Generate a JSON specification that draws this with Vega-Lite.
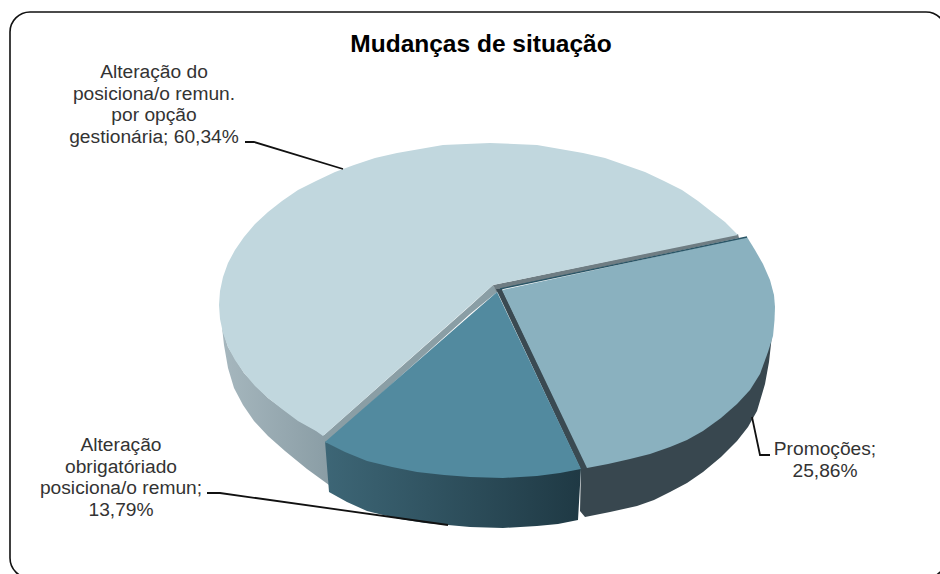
{"$schema":"https://vega.github.io/schema/vega-lite/v6.json","width":940,"height":574,"autosize":"none","padding":0,"background":"white","view":{"stroke":null},
"title":{"text":"Mudanças de situação","font":"Liberation Sans","fontSize":24.5,"fontWeight":"bold","color":"#000000","anchor":"middle","dx":11,"offset":-57},
"encoding":{"x":{"field":"x","type":"quantitative","axis":null,"scale":{"domain":[0,940],"nice":false,"zero":false}},"y":{"field":"y","type":"quantitative","axis":null,"scale":{"domain":[574,0],"nice":false,"zero":false}},"order":{"value":null}},
"layer":[
{"data":{"values":[{"x":10,"y":12,"x2":946,"y2":578}]},"mark":{"type":"rect","fill":null,"stroke":"#111111","strokeWidth":1.6,"cornerRadius":20,"clip":false},"encoding":{"x2":{"field":"x2"},"y2":{"field":"y2"}}},
{"data":{"values":[{"part":"side 60,34%","x":222,"y":327},{"x":224,"y":345},{"x":228,"y":368},{"x":234,"y":388},{"x":243,"y":405},{"x":254,"y":421},{"x":268,"y":436},{"x":285,"y":451},{"x":307,"y":469},{"x":329,"y":485},{"x":326,"y":436},{"x":298,"y":420},{"x":268,"y":398},{"x":244,"y":373},{"x":228,"y":347}]},"mark":{"type":"line","strokeWidth":0,"fill":{"x1":0,"y1":0,"x2":1,"y2":0,"gradient":"linear","stops":[{"offset":0,"color":"#a6b7be"},{"offset":1,"color":"#8a9da5"}]}}},
{"data":{"values":[{"part":"side 25,86%","x":772,"y":335},{"x":769,"y":362},{"x":765,"y":384},{"x":757,"y":411},{"x":748,"y":427},{"x":737,"y":441},{"x":721,"y":457},{"x":703,"y":472},{"x":687,"y":483},{"x":670,"y":492},{"x":654,"y":500},{"x":637,"y":506},{"x":610,"y":512},{"x":585,"y":517},{"x":580,"y":511},{"x":581,"y":468},{"x":630,"y":455},{"x":670,"y":440},{"x":737,"y":400}]},"mark":{"type":"line","strokeWidth":0,"fill":"#38474f"}},
{"data":{"values":[{"part":"side 13,79%","x":325,"y":441},{"x":329,"y":492},{"x":347,"y":502},{"x":367,"y":511},{"x":383,"y":515},{"x":400,"y":519},{"x":425,"y":523},{"x":448,"y":525},{"x":470,"y":527},{"x":503,"y":528},{"x":537,"y":526},{"x":558,"y":524},{"x":578,"y":520},{"x":581,"y":468},{"x":537,"y":474},{"x":470,"y":475},{"x":417,"y":470},{"x":367,"y":459}]},"mark":{"type":"line","strokeWidth":0,"fill":{"x1":0,"y1":0,"x2":1,"y2":0,"gradient":"linear","stops":[{"offset":0,"color":"#3d6676"},{"offset":1,"color":"#1f3944"}]}}},
{"data":{"values":[{"part":"band","x":493,"y":285},{"x":470,"y":306},{"x":323,"y":436},{"x":326,"y":443},{"x":470,"y":314},{"x":497,"y":292}]},"mark":{"type":"line","strokeWidth":0,"fill":"#8a9ea5"}},
{"data":{"values":[{"part":"band","x":493,"y":285},{"x":738,"y":234},{"x":739,"y":238},{"x":500,"y":289},{"x":497,"y":293}]},"mark":{"type":"line","strokeWidth":0,"fill":"#6f7d83"}},
{"data":{"values":[{"part":"band","x":496,"y":289},{"x":502,"y":289},{"x":588,"y":468},{"x":581,"y":470}]},"mark":{"type":"line","strokeWidth":0,"fill":"#3a4a52"}},
{"data":{"values":[{"part":"60,34%","x":493,"y":285},{"x":323,"y":436},{"x":316,"y":431},{"x":298,"y":421},{"x":282,"y":409},{"x":268,"y":398},{"x":255,"y":386},{"x":244,"y":373},{"x":235,"y":360},{"x":228,"y":347},{"x":223,"y":333},{"x":220,"y":319},{"x":219,"y":305},{"x":220,"y":291},{"x":223,"y":277},{"x":228,"y":263},{"x":235,"y":250},{"x":244,"y":237},{"x":255,"y":224},{"x":268,"y":212},{"x":282,"y":201},{"x":298,"y":190},{"x":316,"y":181},{"x":335,"y":172},{"x":354,"y":165},{"x":375,"y":158},{"x":397,"y":153},{"x":420,"y":149},{"x":443,"y":145},{"x":466,"y":144},{"x":490,"y":143},{"x":514,"y":144},{"x":537,"y":145},{"x":560,"y":149},{"x":583,"y":153},{"x":605,"y":158},{"x":625,"y":165},{"x":645,"y":172},{"x":664,"y":181},{"x":682,"y":190},{"x":698,"y":201},{"x":712,"y":212},{"x":725,"y":222},{"x":738,"y":235}]},"mark":{"type":"line","strokeWidth":0,"fill":"#c1d7de"}},
{"data":{"values":[{"part":"13,79%","x":497,"y":292},{"x":581,"y":469},{"x":560,"y":473},{"x":537,"y":476},{"x":503,"y":478},{"x":470,"y":477},{"x":444,"y":475},{"x":417,"y":472},{"x":392,"y":467},{"x":367,"y":461},{"x":345,"y":452},{"x":325,"y":442}]},"mark":{"type":"line","strokeWidth":0,"fill":"#528a9f"}},
{"data":{"values":[{"part":"25,86%","x":502,"y":290},{"x":747,"y":237},{"x":755,"y":250},{"x":763,"y":264},{"x":770,"y":280},{"x":774,"y":295},{"x":775,"y":307},{"x":774.5,"y":320},{"x":773,"y":336},{"x":768,"y":352},{"x":760,"y":374},{"x":750,"y":390},{"x":737,"y":404},{"x":721,"y":418},{"x":703,"y":431},{"x":687,"y":440},{"x":670,"y":447},{"x":650,"y":454},{"x":630,"y":459},{"x":608,"y":464},{"x":587,"y":468}]},"mark":{"type":"line","strokeWidth":0,"fill":"#8ab1bf"}},
{"data":{"values":[{"part":"edge","x":500,"y":289},{"x":747,"y":237}]},"mark":{"type":"line","stroke":"#2a5566","strokeWidth":1.4}},
{"data":{"values":[{"part":"leader","x":245,"y":142},{"x":254,"y":142},{"x":343,"y":169}]},"mark":{"type":"line","stroke":"#111111","strokeWidth":1.8}},
{"data":{"values":[{"part":"leader","x":207,"y":493},{"x":220,"y":493},{"x":448,"y":525}]},"mark":{"type":"line","stroke":"#111111","strokeWidth":1.8}},
{"data":{"values":[{"part":"leader","x":752,"y":417},{"x":760,"y":455},{"x":770,"y":455}]},"mark":{"type":"line","stroke":"#111111","strokeWidth":1.8}},
{"data":{"values":[{"x":154,"y":72,"label":"Alteração do\nposiciona/o remun.\npor opção\ngestionária; 60,34%"},{"x":121,"y":445,"label":"Alteração\nobrigatóriado\nposiciona/o remun;\n13,79%"},{"x":825,"y":449,"label":"Promoções;\n25,86%"}]},"mark":{"type":"text","font":"Liberation Sans","fontSize":19.2,"color":"#333333","align":"center","baseline":"middle","lineBreak":"\n","lineHeight":21.5},"encoding":{"text":{"field":"label","type":"nominal"}}}
]}
